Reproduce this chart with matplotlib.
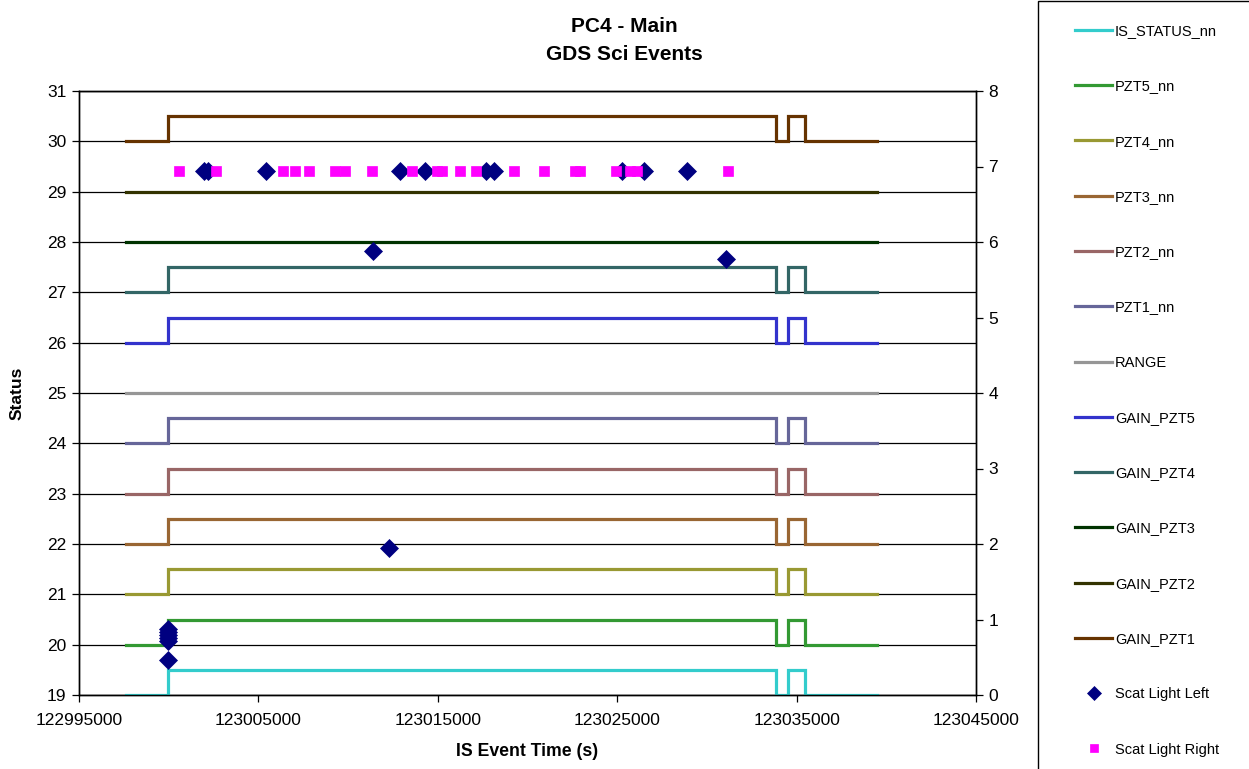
import matplotlib
matplotlib.use("Agg")
import matplotlib.pyplot as plt
from matplotlib.patches import Rectangle
import numpy as np

plt.rcParams['font.family'] = ['Liberation Sans', 'DejaVu Sans']

# ---- data ----
# state change times (s) for the stepped status series
step_times = [122997620, 122999950, 123033850, 123034520, 123035470, 123039480]
step_state = [0, 1, 0, 1, 0, 0]

series_names = ["IS_STATUS_nn", "PZT5_nn", "PZT4_nn", "PZT3_nn", "PZT2_nn", "PZT1_nn",
                "RANGE", "GAIN_PZT5", "GAIN_PZT4", "GAIN_PZT3", "GAIN_PZT2", "GAIN_PZT1"]
series_base = [19, 20, 21, 22, 23, 24, 25, 26, 27, 28, 29, 30]
series_step = [0.5, 0.5, 0.5, 0.5, 0.5, 0.5, 0.0, 0.5, 0.5, 0.0, 0.0, 0.5]
series_colors = ["#33CCCC", "#339933", "#999933", "#996633", "#996666", "#666699",
                 "#969696", "#3333CC", "#336666", "#003300", "#333300", "#663300"]

scat_left_x = [122999950, 122999950, 122999950, 122999950, 122999950, 122999950,
               123001968, 123002191, 123005424, 123011388, 123012280, 123012893,
               123014287, 123017687, 123018133, 123025268, 123026494, 123028891,
               123031065]
scat_left_y = [0.87, 0.83, 0.79, 0.75, 0.71, 0.47,
               6.94, 6.94, 6.94, 5.88, 1.95, 6.94,
               6.94, 6.94, 6.94, 6.94, 6.94, 6.94,
               5.77]

scat_right_x = [123000574, 123002637, 123006371, 123007040, 123007821, 123009270,
                123009827, 123011332, 123013562, 123014955, 123015234, 123016237,
                123017129, 123019248, 123020920, 123022648, 123022926, 123024933,
                123025714, 123026104, 123031176]
scat_right_y = [6.94] * len(scat_right_x)

x_ticks = [122995000, 123005000, 123015000, 123025000, 123035000, 123045000]
left_ticks = list(range(19, 32))
right_ticks = list(range(0, 9))

W, H = 1249, 769
fig = plt.figure(figsize=(W / 100, H / 100), dpi=100)
ax = fig.add_axes([79 / W, 1 - 695 / H, (976 - 79) / W, (695 - 91) / H])
ax2 = ax.twinx()

handles = []
for name, base, amp, col in zip(series_names, series_base, series_step, series_colors):
    y = [base + amp * s for s in step_state]
    ln, = ax.step(step_times, y, where='post', color=col, lw=2.3, label=name,
                  solid_joinstyle='miter', zorder=3)
    handles.append(ln)

hl, = ax2.plot(scat_left_x, scat_left_y, linestyle='none', marker='D', ms=9.2,
               color='#000080', mec='#000080', mew=0.5, label='Scat Light Left', zorder=4)
hr, = ax2.plot(scat_right_x, scat_right_y, linestyle='none', marker='s', ms=7.2,
               color='#FF00FF', mec='#FF00FF', mew=0.5, label='Scat Light Right', zorder=5)
handles += [hl, hr]

ax.set_xlim(x_ticks[0], x_ticks[-1])
ax.set_ylim(left_ticks[0], left_ticks[-1])
ax2.set_ylim(right_ticks[0], right_ticks[-1])
ax.set_xticks(x_ticks)
ax.set_xticklabels([str(t) for t in x_ticks])
ax.set_yticks(left_ticks)
ax2.set_yticks(right_ticks)

ax.grid(axis='y', color='black', lw=0.9, zorder=1)
ax.set_axisbelow(True)
for a in (ax, ax2):
    for sp in a.spines.values():
        sp.set_color('black')
        sp.set_linewidth(1.0)
ax.tick_params(axis='y', direction='out', length=5, width=0.9, labelsize=12.5,
               colors='black', pad=4)
ax.tick_params(axis='x', direction='out', length=5, width=0.9, labelsize=12.5,
               colors='black', pad=8)
ax2.tick_params(axis='y', direction='out', length=5, width=0.9, labelsize=12.5,
                colors='black', pad=4)

# titles / labels
fig.text(0.5, 1 - 26 / H, "PC4 - Main", ha='center', va='center', fontsize=15, fontweight='bold')
fig.text(0.5, 1 - 54 / H, "GDS Sci Events", ha='center', va='center', fontsize=15, fontweight='bold')
fig.text(17 / W, 1 - 393 / H, "Status", rotation=90, ha='center', va='center',
         fontsize=12.5, fontweight='bold')
fig.text(527 / W, 1 - 751 / H, "IS Event Time (s)", ha='center', va='center',
         fontsize=12.7, fontweight='bold')

# legend frame
fig.patches.append(Rectangle((1038 / W, -0.2), 0.5, 1.2 - 1.5 / H, transform=fig.transFigure,
                             fill=False, edgecolor='black', lw=1.0))
fig.legend(handles=handles, loc='upper left', bbox_to_anchor=(1075 / W, 1 - 24 / H),
           frameon=False, borderpad=0, borderaxespad=0, fontsize=10.5,
           handlelength=2.55, handletextpad=0.2, labelspacing=2.83, numpoints=1,
           markerscale=0.72)

fig.savefig("out.png", dpi=100)
